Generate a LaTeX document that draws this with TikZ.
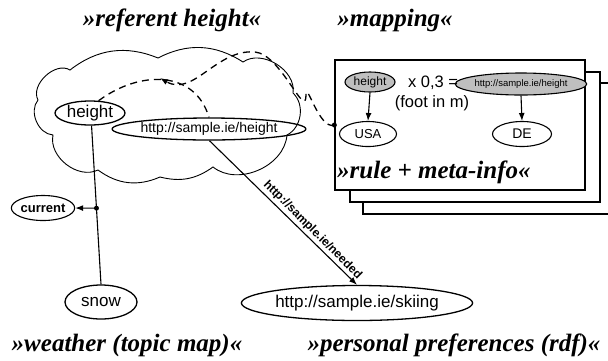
\documentclass[tikz,border=0pt]{standalone}
\usepackage{fontspec}
\setmainfont{Liberation Sans}
\newfontfamily\titleserif{Liberation Serif}
\usetikzlibrary{shapes.geometric,arrows.meta,calc}

\tikzset{
  topic/.style={draw,ellipse,line width=1.3pt,inner sep=0pt,font=\fontsize{17}{17}\selectfont},
  uri/.style={draw,ellipse,line width=1.3pt,inner sep=0pt,font=\fontsize{14}{14}\selectfont},
  grayuri/.style={draw,ellipse,line width=1.1pt,inner sep=0pt,fill=gray!50},
  heading/.style={font=\titleserif\bfseries\itshape\fontsize{25}{28}\selectfont},
  sheet/.style={draw,line width=1.3pt,fill=white},
  arr/.style={line width=1.1pt,-{Latex[length=8pt,width=6pt]}},
  dashline/.style={line width=1.3pt,dash pattern=on 7pt off 5pt}
}

\begin{document}
\begin{tikzpicture}[x=1pt,y=1pt,yscale=-1,xscale=1]
\useasboundingbox (0,0) rectangle (608,360);

% Headings
\node[heading] (tRef) at (172,20) {»referent height«};
\node[heading] (tMap) at (395,20) {»mapping«};
\node[heading] (tWeather) at (127,345) {»weather (topic map)«};
\node[heading] (tPref) at (454,345) {»personal preferences (rdf)«};

%Cloud
\draw[line width=0.9pt] (38,100) to[bend right=75] (70,70) to[bend right=30] (158,58)
  to[bend right=30] (243,62) to[bend right=67] (293,93) to[bend right=55] (287,135)
  to[bend right=62] (213,167) to[bend right=25] (160,177) to[bend right=30] (98,170)
  to[bend right=64] (53,135) to[bend right=63] cycle;

% Topic map nodes
\node[topic,minimum width=70,minimum height=24] (hgt) at (90,113) {height};
\node[uri,minimum width=162,minimum height=22] (hgturl) at (209,129) {http://sample.ie/height};
\node[topic,minimum width=72,minimum height=34] (snow) at (101,302) {snow};
\node[topic,font=\bfseries\fontsize{13}{13}\selectfont,line width=1.1pt,
  minimum width=63,minimum height=25] (current) at (43,208) {current};
\node[topic,minimum width=207,minimum height=35] (skiing) at (357,303) {http://sample.ie/skiing};

%Straight Lines
\draw[line width=1.1pt] (hgt.-83) -- (snow.north);
\coordinate (branch) at ($(hgt.-83)!0.52!(snow.north)$);
\fill (branch) circle (2.5);
\draw[arr] (branch) -- (current.east);

%Straight Lines
\draw[arr] (hgturl.-88) -- (skiing.north)
  node[pos=0.66,rotate=-45,anchor=south,inner sep=2pt,font=\bfseries\fontsize{12}{12}\selectfont] {http://sample.ie/needed};

% Mapping sheets
\draw[sheet] (363,83) rectangle (615,214);
\draw[sheet] (350,72) rectangle (600,202);
\node[sheet,minimum width=250,minimum height=130,inner sep=0pt] (front) at (460,125) {};

\node[grayuri,font=\fontsize{12}{12}\selectfont,minimum width=50,minimum height=20] (gh) at (370,82) {height};
\node[grayuri,font=\fontsize{9.5}{9.5}\selectfont,minimum width=115,minimum height=22] (gu) at (521,84) {http://sample.ie/height};
\node[topic,font=\fontsize{13}{13}\selectfont,line width=1.1pt,minimum width=57,minimum height=25] (usa) at (368,134) {USA};
\node[topic,font=\fontsize{14}{14}\selectfont,line width=1.1pt,minimum width=59,minimum height=25] (de) at (522,134) {DE};
\node[font=\fontsize{16.5}{17}\selectfont] (factor) at (433,83) {x 0,3 =};
\node[font=\fontsize{16.5}{17}\selectfont] (unit) at (432,103) {(foot in m)};
\node[heading,anchor=west,inner sep=0pt] (rule) at (337,172) {»rule + meta-info«};

\draw[arr] (gh.south) -- (usa.north);
\draw[arr] (gu.south) -- (de.north);

%Curve Lines
\draw[dashline] (hgt.55) .. controls (140,70) and (195,70) .. (hgturl.north);
\coordinate (assoc) at (160,78);
\coordinate (attach) at (front.west);
\fill (attach) circle (2.5);
\draw[dashline,-{Latex[length=8pt,width=6pt]}] (attach) to[out=160,in=-90] (306,95)
  to[out=90,in=5] (255,52) to[out=185,in=30] (assoc);
\end{tikzpicture}
\end{document}
